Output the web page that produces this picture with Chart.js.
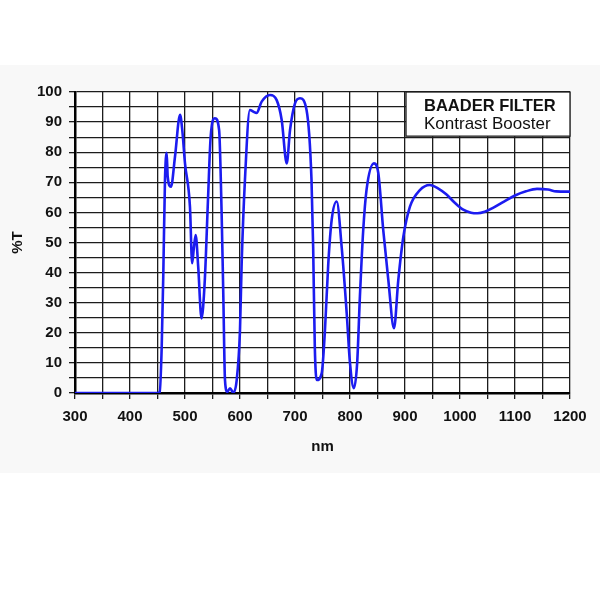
<!DOCTYPE html>
<html>
<head>
<meta charset="utf-8">
<script src="https://cdn.jsdelivr.net/npm/chart.js@4/dist/chart.umd.min.js"></script>
<style>
  html, body { margin: 0; padding: 0; background: #fff; }
  #page { position: relative; width: 600px; height: 600px; overflow: hidden; }
  #band { position: absolute; left: 0; top: 65px; width: 600px; height: 408px; background: #f8f8f8; }
  #wrap { position: absolute; left: 0; top: 0; width: 600px; height: 600px; }
</style>
</head>
<body>
<div id="page">
  <div id="band"></div>
  <div id="wrap"><canvas id="c" width="600" height="600"></canvas></div>
</div>
<script>
(function () {
  "use strict";

  const TITLE_1 = "BAADER FILTER";
  const TITLE_2 = "Kontrast Booster";
  const X_TITLE = "nm";
  const Y_TITLE = "%T";

  // wavelength (nm) and transmission (%)
  const wavelength = [
    300, 450, 454, 457.6, 460.6, 463.6, 466.7, 468.5, 474.5, 481.8,
    491, 495, 500, 509, 513, 516, 519.4, 524, 530, 536,
    542, 546.7, 554.5, 562, 566.6, 569.7, 572.7, 577, 581.8, 587.8,
    594, 600, 603, 609, 618, 624, 630, 639.4, 654.5, 666.7,
    675.8, 685, 691, 700, 709, 721, 730, 733, 736, 739.5,
    748.5, 754.5, 760.5, 766.7, 775.8, 784.8, 794, 800, 807, 813,
    818, 824, 830, 843.6, 851.5, 860.5, 869.7, 880, 887.8, 897,
    909, 927, 945, 960, 975, 990, 1005, 1020, 1032, 1045,
    1060, 1080, 1100, 1120, 1140, 1160, 1175, 1200
  ];
  const transmission = [
    0, 0, 0.3, 15, 40, 70.8, 79.8, 72, 68.5, 78.5,
    92.4, 87.4, 76.3, 61.9, 43.1, 48, 52.5, 42, 24.8, 37.5,
    65.2, 85.2, 91.3, 87.4, 59.7, 32, 4.3, 0.4, 1.6, 0.1,
    4.3, 21, 43, 70.8, 94, 93.5, 93, 96.8, 99, 97.3,
    90.7, 76.3, 87.4, 96.2, 97.9, 94, 70.8, 48.6, 15.4, 4.3,
    6.5, 21, 43, 57.5, 63.6, 48.6, 26.5, 9.9, 1.6, 9.9,
    32, 54, 67.4, 76.3, 73, 54, 37.5, 21.5, 37.5, 51.9,
    61.9, 67.4, 69.1, 68, 66, 63.3, 61, 59.9, 59.7, 60.2,
    61.5, 63.6, 65.6, 67, 67.8, 67.6, 67, 66.9
  ];

  const xMin = 300, xMax = 1200, xStep = 50, xLabelEvery = 100;
  const yMin = 0, yMax = 100, yStep = 5, yLabelEvery = 10;
  const boxFrom = 900, boxDownTo = 85;

  const FONT = '"Liberation Sans", Arial, Helvetica, sans-serif';
  const GRID = "#1c1c1c";

  const points = wavelength.map(function (w, i) {
    return { x: w, y: transmission[i] };
  });

  const plotBg = {
    id: "plotBg",
    beforeDraw: function (chart) {
      const a = chart.chartArea;
      const ctx = chart.ctx;
      ctx.save();
      ctx.fillStyle = "#ffffff";
      ctx.fillRect(a.left, a.top, a.right - a.left, a.bottom - a.top);
      ctx.restore();
    },
  };

  const titleBox = {
    id: "titleBox",
    beforeDatasetsDraw: function (chart) {
      const ctx = chart.ctx;
      const a = chart.chartArea;
      const left = chart.scales.x.getPixelForValue(boxFrom) + 1;
      const bottom = chart.scales.y.getPixelForValue(boxDownTo) - 1;
      ctx.save();
      ctx.fillStyle = "#ffffff";
      ctx.fillRect(left, a.top, a.right - left, bottom - a.top);
      ctx.strokeStyle = GRID;
      ctx.lineWidth = 1.3;
      ctx.strokeRect(left, a.top, a.right - left, bottom - a.top);
      ctx.fillStyle = "#111";
      ctx.textBaseline = "middle";
      ctx.textAlign = "left";
      ctx.font = "bold 16.5px " + FONT;
      ctx.fillText(TITLE_1, left + 18, a.top + 14);
      ctx.font = "17px " + FONT;
      ctx.fillText(TITLE_2, left + 18, a.top + 32);
      ctx.restore();
    },
  };

  new Chart(document.getElementById("c").getContext("2d"), {
    type: "line",
    data: {
      datasets: [
        {
          data: points,
          borderColor: "#1c1cf0",
          borderWidth: 2.6,
          pointRadius: 0,
          fill: false,
          cubicInterpolationMode: "monotone",
        },
      ],
    },
    options: {
      responsive: false,
      animation: false,
      layout: { padding: { top: 92, right: 30, bottom: 140, left: 0 } },
      plugins: { legend: { display: false }, tooltip: { enabled: false } },
      scales: {
        x: {
          type: "linear",
          min: xMin,
          max: xMax,
          afterFit: function (s) { s.height = 67; },
          afterBuildTicks: function (s) {
            const t = [];
            for (let v = xMin; v <= xMax; v += xStep) t.push({ value: v });
            s.ticks = t;
          },
          ticks: {
            autoSkip: false,
            maxRotation: 0,
            padding: 9,
            color: "#111",
            font: { family: FONT, size: 15, weight: "bold" },
            callback: function (v) { return v % xLabelEvery === 0 ? String(v) : ""; },
          },
          grid: { color: GRID, lineWidth: 1.3, tickLength: 6 },
          border: { color: "#000", width: 2.5 },
          title: {
            display: true,
            text: X_TITLE,
            color: "#111",
            font: { family: FONT, size: 15, weight: "bold" },
            padding: { top: 4, bottom: 4 },
          },
        },
        y: {
          min: yMin,
          max: yMax,
          afterFit: function (s) { s.width = 75; },
          afterBuildTicks: function (s) {
            const t = [];
            for (let v = yMin; v <= yMax; v += yStep) t.push({ value: v });
            s.ticks = t;
          },
          ticks: {
            autoSkip: false,
            padding: 7,
            color: "#111",
            font: { family: FONT, size: 15, weight: "bold" },
            callback: function (v) { return v % yLabelEvery === 0 ? String(v) : ""; },
          },
          grid: { color: GRID, lineWidth: 1.3, tickLength: 6 },
          border: { color: "#000", width: 2.5 },
          title: {
            display: true,
            text: Y_TITLE,
            color: "#111",
            font: { family: FONT, size: 15, weight: "bold" },
            padding: { top: 9, bottom: 4 },
          },
        },
      },
    },
    plugins: [plotBg, titleBox],
  });
})();
</script>
</body>
</html>
